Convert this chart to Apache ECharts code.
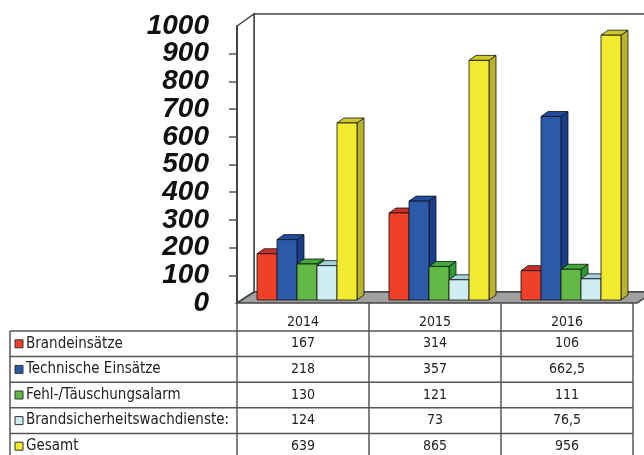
<!DOCTYPE html>
<html>
<head>
<meta charset="utf-8">
<script src="https://cdn.jsdelivr.net/npm/echarts@6/dist/echarts.min.js"></script>
<style>
  html, body { margin: 0; padding: 0; background: #fff; }
  #main { width: 644px; height: 455px; }
</style>
</head>
<body>
<div id="main"></div>
<script>
// Daten
var years = ["2014", "2015", "2016"];
var seriesNames = ["Brandeinsätze", "Technische Einsätze", "Fehl-/Täuschungsalarm", "Brandsicherheitswachdienste:", "Gesamt"];
var brandeinsaetze = [167, 314, 106];
var technische = [218, 357, 662.5];
var fehlalarm = [130, 121, 111];
var wachdienste = [124, 73, 76.5];
var gesamt = [639, 865, 956];
var yTicks = [0, 100, 200, 300, 400, 500, 600, 700, 800, 900, 1000];

var allValues = [brandeinsaetze, technische, fehlalarm, wachdienste, gesamt];

// Farben: Front, Deckel, Seite
var colors = [
  ["#ee4128", "#c9302a", "#b52a22"],
  ["#2b5ba8", "#1f4c9f", "#1a3d8e"],
  ["#62b946", "#3eaa3a", "#2f9a35"],
  ["#d0edf2", "#a3d4dc", "#8cc5cf"],
  ["#f2ea2e", "#cfc72a", "#b9b22a"]
];

// Geometrie
var GRID_L = 237, GRID_R = 633, GRID_T = 26, GRID_B = 303;
var WALL_DX = 17, WALL_DY = 11;
var BAR_W = 20, DEPTH_X = 7, DEPTH_Y = 5, SHIFT_X = 4, SHIFT_Y = -3;
var ROW_TOP = 331, ROW_H = 25.6, TABLE_L = 10, TABLE_B = 460;

var chart = echarts.init(document.getElementById("main"));

function fmt(v) {
  return String(v).replace(".", ",");
}

function makeRender(idx) {
  return function (params, api) {
    var top = api.coord([api.value(0), api.value(1)]);
    var base = api.coord([api.value(0), 0]);
    var x0 = top[0] - (BAR_W * seriesNames.length) / 2 + idx * BAR_W + SHIFT_X;
    var yT = top[1] + SHIFT_Y;
    var yB = base[1] + SHIFT_Y;
    var line = { stroke: "#111", lineWidth: 0.8 };
    return {
      type: "group",
      children: [
        {
          type: "polygon",
          shape: { points: [[x0 + BAR_W, yT], [x0 + BAR_W + DEPTH_X, yT - DEPTH_Y], [x0 + BAR_W + DEPTH_X, yB - DEPTH_Y], [x0 + BAR_W, yB]] },
          style: Object.assign({ fill: colors[idx][2] }, line)
        },
        {
          type: "polygon",
          shape: { points: [[x0, yT], [x0 + DEPTH_X, yT - DEPTH_Y], [x0 + BAR_W + DEPTH_X, yT - DEPTH_Y], [x0 + BAR_W, yT]] },
          style: Object.assign({ fill: colors[idx][1] }, line)
        },
        {
          type: "rect",
          shape: { x: x0, y: yT, width: BAR_W, height: yB - yT },
          style: Object.assign({ fill: colors[idx][0] }, line)
        }
      ]
    };
  };
}

var series = seriesNames.map(function (name, i) {
  return {
    name: name,
    type: "custom",
    renderItem: makeRender(i),
    encode: { x: 0, y: 1 },
    data: allValues[i].map(function (v, k) { return [k, v]; }),
    z: 3
  };
});

var cellFamily = "'DejaVu Sans Condensed', 'DejaVu Sans'";

var yLabelStyle = {
  margin: 28,
  color: "#111",
  fontSize: 28,
  fontWeight: "bold",
  fontStyle: "italic",
  fontFamily: "Liberation Sans, Arial",
  padding: [5, 0, 0, 0]
};

var minV = yTicks[0], maxV = yTicks[yTicks.length - 1];

var option = {
  backgroundColor: "#fff",
  animation: false,
  grid: { left: GRID_L, right: 644 - GRID_R, top: GRID_T, bottom: 455 - GRID_B },
  xAxis: {
    type: "category",
    data: years,
    axisLine: { show: false },
    axisTick: { show: false },
    axisLabel: { margin: 12, color: "#222", fontSize: 14, fontFamily: cellFamily }
  },
  yAxis: [
    {
      type: "value",
      min: minV,
      max: maxV,
      interval: 100,
      axisLine: { show: true, lineStyle: { color: "#333", width: 1.5 } },
      axisTick: { show: true, length: 8, lineStyle: { color: "#555", width: 1.5 } },
      splitLine: { show: false },
      axisLabel: Object.assign({
        showMinLabel: false,
        showMaxLabel: false,
        formatter: function (v) { return String(v); }
      }, yLabelStyle)
    },
    {
      // nur 0 und 1000, damit die Nachbarlabels nicht ausgeblendet werden
      type: "value",
      position: "left",
      min: minV,
      max: maxV,
      interval: 100,
      axisLine: { show: false },
      axisTick: { show: false },
      splitLine: { show: false },
      axisLabel: Object.assign({
        showMinLabel: true,
        showMaxLabel: true,
        formatter: function (v) { return (v === minV || v === maxV) ? String(v) : ""; }
      }, yLabelStyle)
    }
  ],
  series: series
};

chart.setOption(option);

// Wände, Boden und Datentabelle
var graphic = [];
var wallStroke = { stroke: "#444", lineWidth: 1.5 };
graphic.push({
  type: "polygon", z: 0,
  shape: { points: [[GRID_L + WALL_DX, GRID_T - WALL_DY - 1], [700, GRID_T - WALL_DY - 1], [700, GRID_B - WALL_DY], [GRID_L + WALL_DX, GRID_B - WALL_DY]] },
  style: Object.assign({ fill: "#fff" }, wallStroke)
});
graphic.push({
  type: "polygon", z: 0,
  shape: { points: [[GRID_L, GRID_T], [GRID_L + WALL_DX, GRID_T - WALL_DY - 1], [GRID_L + WALL_DX, GRID_B - WALL_DY], [GRID_L, GRID_B]] },
  style: Object.assign({ fill: "#fff" }, wallStroke)
});
graphic.push({
  type: "polygon", z: 0,
  shape: { points: [[GRID_L, GRID_B], [GRID_R + 4, GRID_B], [GRID_R + 4 + WALL_DX, GRID_B - WALL_DY], [GRID_L + WALL_DX, GRID_B - WALL_DY]] },
  style: Object.assign({ fill: "#a0a0a0" }, wallStroke)
});

var tableLine = { stroke: "#555", lineWidth: 1.5 };
var band = chart.convertToPixel({ xAxisIndex: 0 }, 1) - chart.convertToPixel({ xAxisIndex: 0 }, 0);

// senkrechte Linien
graphic.push({ type: "line", z: 5, shape: { x1: TABLE_L, y1: ROW_TOP, x2: TABLE_L, y2: TABLE_B }, style: tableLine });
for (var c = 0; c <= years.length; c++) {
  var xc = chart.convertToPixel({ xAxisIndex: 0 }, Math.min(c, years.length - 1)) + (c === years.length ? band / 2 : -band / 2);
  graphic.push({ type: "line", z: 5, shape: { x1: xc, y1: GRID_B, x2: xc, y2: TABLE_B }, style: tableLine });
}
// waagerechte Linien
for (var r = 0; r < seriesNames.length; r++) {
  var yr = ROW_TOP + r * ROW_H;
  graphic.push({ type: "line", z: 5, shape: { x1: TABLE_L, y1: yr, x2: GRID_R, y2: yr }, style: tableLine });
}

var labelFont = "15px " + cellFamily;
var numFont = "14px " + cellFamily;
seriesNames.forEach(function (name, r) {
  var yMid = ROW_TOP + (r + 0.5) * ROW_H;
  graphic.push({
    type: "rect", z: 6,
    shape: { x: 15, y: yMid - 4, width: 8, height: 8 },
    style: { fill: colors[r][0], stroke: "#333", lineWidth: 1 }
  });
  graphic.push({
    type: "text", z: 6, x: 26, y: yMid,
    style: { text: name, font: labelFont, fill: "#222", verticalAlign: "middle", align: "left" }
  });
  years.forEach(function (yr, k) {
    graphic.push({
      type: "text", z: 6,
      x: chart.convertToPixel({ xAxisIndex: 0 }, k), y: yMid,
      style: { text: fmt(allValues[r][k]), font: numFont, fill: "#222", verticalAlign: "middle", align: "center" }
    });
  });
});

chart.setOption({ graphic: graphic });
</script>
</body>
</html>
